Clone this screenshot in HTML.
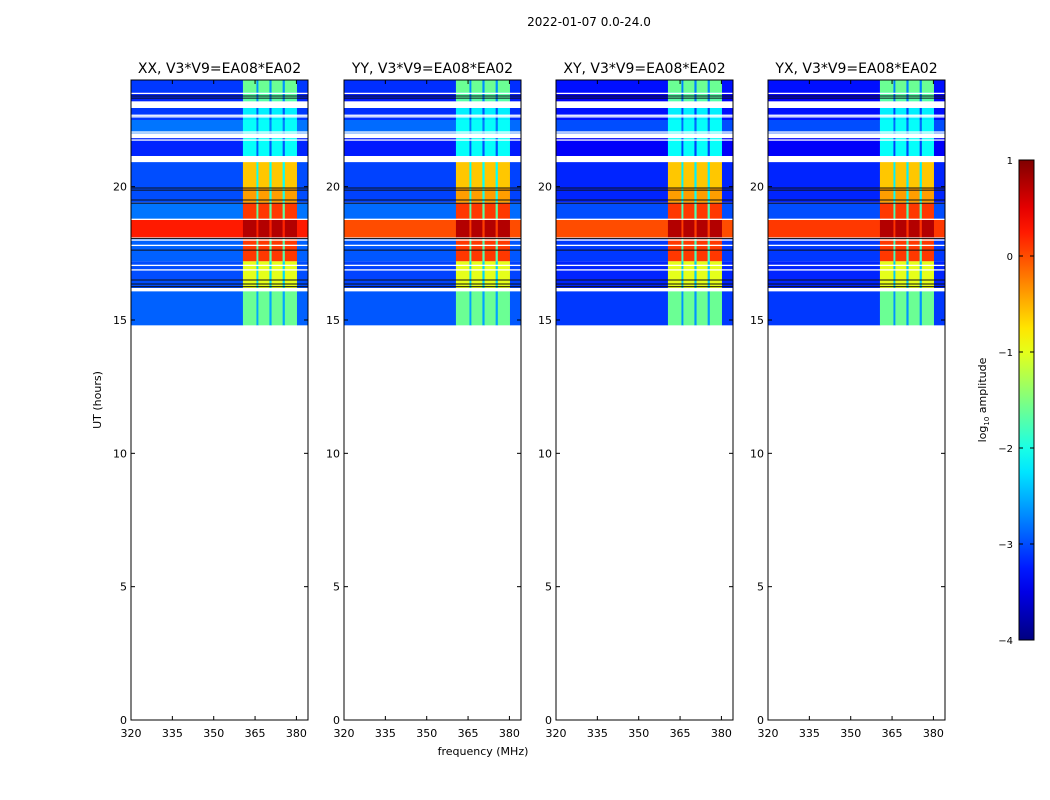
<!DOCTYPE html>
<html><head><meta charset="utf-8">
<style>
body{margin:0;background:#fff;width:1050px;height:800px;overflow:hidden}
svg{display:block;font-family:"DejaVu Sans","Liberation Sans",sans-serif}
</style></head>
<body>
<svg id="chart" width="1050" height="800">
<text x="589" y="26" font-size="12" text-anchor="middle">2022-01-07 0.0-24.0</text>
<text x="483" y="755" font-size="11" text-anchor="middle">frequency (MHz)</text>
<text transform="translate(101,400) rotate(-90)" font-size="11" text-anchor="middle">UT (hours)</text>
<text transform="translate(986,400) rotate(-90)" font-size="11" text-anchor="middle">log<tspan font-size="7" dy="3">10</tspan><tspan dy="-3"> amplitude</tspan></text>
</svg>
<script>
// ---- data ----
const panelTitles = ["XX, V3*V9=EA08*EA02","YY, V3*V9=EA08*EA02","XY, V3*V9=EA08*EA02","YX, V3*V9=EA08*EA02"];
const panelBgOffset = [0, -0.05, -0.2, -0.2];
const panelBandLevel = [0.25, 0.0, 0.0, 0.1];
// time segments (hours)
const segStart = [23.55, 23.2, 22.5, 22.0, 21.15, 19.95, 19.4, 18.8, 18.1, 17.2, 16.2, 14.8];
const segEnd   = [24.0, 23.55, 22.95, 22.5, 21.82, 20.92, 19.95, 19.38, 18.75, 18.05, 17.2, 16.1];
const segBg    = [-3.1, -3.2, -3.1, -2.8, -3.2, -3.0, -3.0, -2.8, null, -2.9, -3.0, -2.9];
const segRfi   = [-1.6, -1.7, -2.2, -2.1, -2.1, -0.6, -0.4, 0.1, 0.75, 0.1, -1.0, -1.6];
// frequency columns (MHz)
const freqEdges = [320, 360.6, 365.5, 366.2, 370.2, 371.0, 375.0, 375.8, 380.2, 384.2];
const colIsRfi  = [0, 1, 0, 1, 0, 1, 0, 1, 0];
const whiteLines = [23.5, 22.68, 22.62, 22.05, 21.75, 18.0, 17.8, 17.05, 16.88, 16.1];
const blackLines = [23.4, 23.32, 19.95, 19.87, 19.5, 19.38, 18.06, 17.62, 16.5, 16.35, 16.25];
const yTicks = [0, 5, 10, 15, 20];
const xTicks = [320, 335, 350, 365, 380];
const cbTicks = [1, 0, -1, -2, -3, -4];

const panelX = [131, 344, 556, 768];
const PW = 177, PT = 80, PB = 720;
const FMIN = 320, FMAX = 384.2, HMIN = 0, HMAX = 24;
const NS = "http://www.w3.org/2000/svg";
const svg = document.getElementById('chart');

function jet(v){
  let t = (v + 4) / 5; t = Math.max(0, Math.min(1, t));
  const f = x => Math.max(0, Math.min(1, x));
  const r = f(1.5 - Math.abs(4*t - 3)), g = f(1.5 - Math.abs(4*t - 2)), b = f(1.5 - Math.abs(4*t - 1));
  return `rgb(${Math.round(r*255)},${Math.round(g*255)},${Math.round(b*255)})`;
}
function mk(tag, attrs){ const e = document.createElementNS(NS, tag); for (const k in attrs) e.setAttribute(k, attrs[k]); return e; }
const yS = h => PB - (h - HMIN) / (HMAX - HMIN) * (PB - PT);

panelX.forEach((px, p) => {
  const xS = f => px + (f - FMIN) / (FMAX - FMIN) * PW;
  const g = mk('g', {});
  
  
  svg.appendChild(g);
  for (let s = 0; s < segStart.length; s++) {
    const bg = segBg[s] === null ? panelBandLevel[p] : segBg[s] + panelBgOffset[p];
    for (let c = 0; c < colIsRfi.length; c++) {
      let v = colIsRfi[c] ? segRfi[s] : bg;
      if (!colIsRfi[c] && c > 0 && c < colIsRfi.length - 1) v = (bg + segRfi[s]) / 2 - 0.3;
      const r = mk('rect', {x: xS(freqEdges[c]), y: yS(segEnd[s]), width: xS(freqEdges[c+1]) - xS(freqEdges[c]) + 0.3, height: yS(segStart[s]) - yS(segEnd[s]), fill: jet(v)});
      
      
      g.appendChild(r);
    }
  }
  whiteLines.forEach(h => {
    const l = mk('rect', {x: px, y: yS(h) - 0.6, width: PW, height: 1.3, fill: '#fff'});
    
    
    g.appendChild(l);
  });
  blackLines.forEach(h => {
    const l = mk('rect', {x: px, y: yS(h) - 0.5, width: PW, height: 1, fill: '#111'});
    
    
    g.appendChild(l);
  });
  const frame = mk('rect', {x: px, y: PT, width: PW, height: PB - PT, fill: 'none', stroke: '#000', 'stroke-width': 1});
  
  
  g.appendChild(frame);
  const t = mk('text', {x: px + PW/2, y: 73, 'font-size': 14, 'text-anchor': 'middle'});
  t.textContent = panelTitles[p];
  
  
  g.appendChild(t);
  yTicks.forEach(h => {
    const y = yS(h);
    g.appendChild(mk('line', {x1: px, x2: px + 4, y1: y, y2: y, stroke: '#000'}));
    g.appendChild(mk('line', {x1: px + PW - 4, x2: px + PW, y1: y, y2: y, stroke: '#000'}));
    const lt = mk('text', {x: px - 4, y: y + 4, 'font-size': 11, 'text-anchor': 'end'});
    lt.textContent = h;
    
    
    g.appendChild(lt);
  });
  xTicks.forEach(f => {
    const x = xS(f);
    g.appendChild(mk('line', {x1: x, x2: x, y1: PB, y2: PB - 4, stroke: '#000'}));
    g.appendChild(mk('line', {x1: x, x2: x, y1: PT, y2: PT + 4, stroke: '#000'}));
    const lt = mk('text', {x: x, y: PB + 17, 'font-size': 11, 'text-anchor': 'middle'});
    lt.textContent = f;
    
    
    g.appendChild(lt);
  });
});

// colorbar
const defs = mk('defs', {});
const grad = mk('linearGradient', {id: 'jetg', x1: 0, y1: 0, x2: 0, y2: 1});
for (let i = 0; i <= 20; i++) {
  const v = 1 - 5 * i / 20;
  grad.appendChild(mk('stop', {offset: i/20, 'stop-color': jet(v)}));
}
defs.appendChild(grad); svg.appendChild(defs);
const CBX = 1019, CBW = 15, CBT = 160, CBB = 640;
const cb = mk('rect', {x: CBX, y: CBT, width: CBW, height: CBB - CBT, fill: 'url(#jetg)', stroke: '#000'});


svg.appendChild(cb);
cbTicks.forEach(v => {
  const y = CBT + (1 - v) / 5 * (CBB - CBT);
  svg.appendChild(mk('line', {x1: CBX, x2: CBX + 4, y1: y, y2: y, stroke: '#000'}));
  svg.appendChild(mk('line', {x1: CBX + CBW - 4, x2: CBX + CBW, y1: y, y2: y, stroke: '#000'}));
  const t = mk('text', {x: 1013, y: y + 4, 'font-size': 10, 'text-anchor': 'end'});
  t.textContent = v < 0 ? '\u2212' + (-v) : v;
  
  
  svg.appendChild(t);
});
</script>
</body></html>
